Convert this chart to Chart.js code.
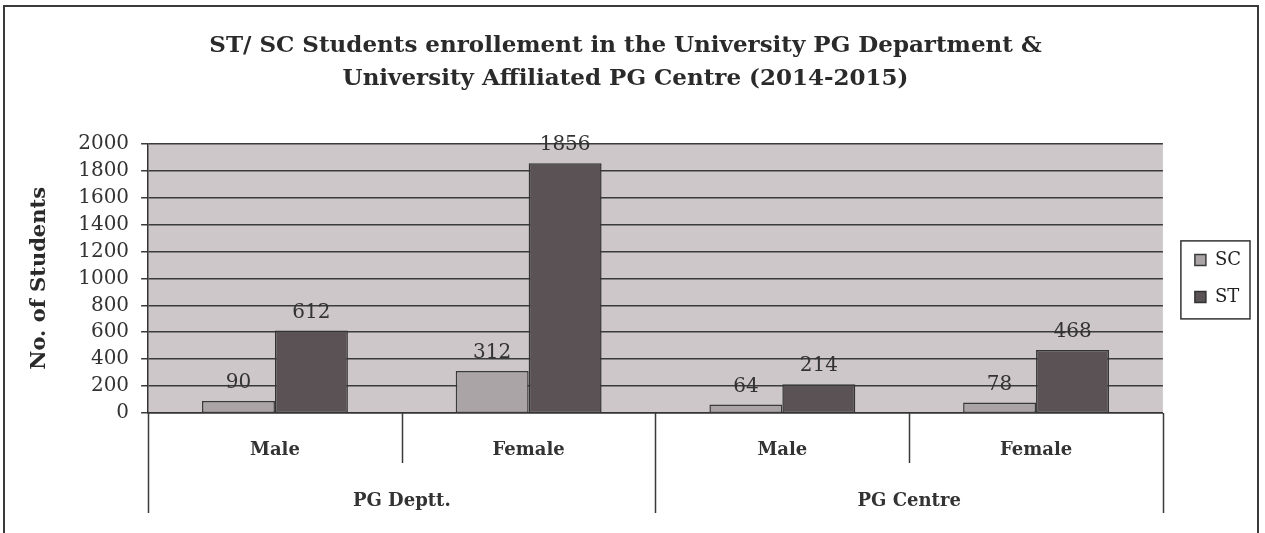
<!DOCTYPE html>
<html lang="en">
<head>
  <meta charset="UTF-8">
  <script src="https://cdn.jsdelivr.net/npm/chart.js"></script>
  <title>ST/ SC Students enrollement</title>
  <style>
    body {
      margin: 0;
      padding: 0;
      background-color: #fff;
      width: 1265px;
      height: 533px;
      overflow: hidden;
      position: relative;
    }

    .frame {
      position: absolute;
      left: 3px;
      top: 5px;
      width: 1252px;
      height: 540px;
      border: 2px solid #3a3a3a;
    }

    .wrap {
      position: absolute;
      left: 0;
      top: 0;
      width: 1265px;
      height: 533px;
    }
  </style>
</head>
<body>
<div class="frame"></div>
<div class="wrap">
  <canvas id="enrolChart" width="1265" height="533"></canvas>
</div>

<script>
  // chart data
  const groups = ['PG Deptt.', 'PG Centre'];
  const genders = ['Male', 'Female', 'Male', 'Female'];
  const scValues = [90, 312, 64, 78];
  const stValues = [612, 1856, 214, 468];
  const yMin = 0;
  const yMax = 2000;
  const yStep = 200;

  const serif = '"DejaVu Serif", "Liberation Serif", serif';
  const lineColor = '#3a3a3a';

  // grey plot background
  const plotBackground = {
    id: 'plotBackground',
    beforeDraw(chart) {
      const { ctx, chartArea } = chart;
      ctx.save();
      ctx.fillStyle = '#cdc7ca';
      ctx.fillRect(chartArea.left, chartArea.top, chartArea.width, chartArea.height);
      ctx.restore();
    }
  };

  // value labels above each bar
  const valueLabels = {
    id: 'valueLabels',
    afterDatasetsDraw(chart) {
      const ctx = chart.ctx;
      ctx.save();
      ctx.font = '20px ' + serif;
      ctx.fillStyle = '#333';
      ctx.textAlign = 'center';
      ctx.textBaseline = 'bottom';
      chart.data.datasets.forEach((ds, i) => {
        chart.getDatasetMeta(i).data.forEach((bar, j) => {
          ctx.fillText(ds.data[j], bar.x, bar.y - 8);
        });
      });
      ctx.restore();
    }
  };

  // separator lines of the two-level category axis
  const categoryDividers = {
    id: 'categoryDividers',
    afterDraw(chart) {
      const ctx = chart.ctx;
      const x = chart.scales.x;
      const x2 = chart.scales.x2;
      ctx.save();
      ctx.strokeStyle = lineColor;
      ctx.lineWidth = 1.5;
      ctx.beginPath();
      for (let i = 0; i <= genders.length; i++) {
        const px = Math.round(x.getPixelForValue(i - 0.5)) + 0.5;
        ctx.moveTo(px, x.top);
        ctx.lineTo(px, x.top + 50);
      }
      for (let i = 0; i <= groups.length; i++) {
        const px = Math.round(x2.getPixelForValue(i - 0.5)) + 0.5;
        ctx.moveTo(px, x.top);
        ctx.lineTo(px, x2.top + 50);
      }
      ctx.stroke();
      ctx.restore();
    }
  };

  // frame round the legend
  const legendFrame = {
    id: 'legendFrame',
    afterDraw(chart) {
      const boxes = chart.legend.legendHitBoxes;
      if (!boxes || !boxes.length) return;
      const ctx = chart.ctx;
      let l = Infinity, t = Infinity, r = -Infinity, b = -Infinity;
      boxes.forEach(h => {
        l = Math.min(l, h.left);
        t = Math.min(t, h.top);
        r = Math.max(r, h.left + h.width);
        b = Math.max(b, h.top + h.height);
      });
      ctx.save();
      ctx.strokeStyle = '#333';
      ctx.lineWidth = 1.5;
      ctx.strokeRect(l - 14, t - 10, r - l + 23, b - t + 23);
      ctx.restore();
    }
  };

  const ctx = document.getElementById('enrolChart').getContext('2d');
  const enrolChart = new Chart(ctx, {
    type: 'bar',
    data: {
      labels: genders,
      datasets: [
        {
          label: 'SC',
          data: scValues,
          backgroundColor: '#aaa4a7',
          borderColor: lineColor,
          borderWidth: 1.5,
          borderSkipped: false,
        },
        {
          label: 'ST',
          data: stValues,
          backgroundColor: '#5a5255',
          borderColor: '#333',
          borderWidth: 1.5,
          borderSkipped: false,
        },
      ],
    },
    options: {
      responsive: false,
      animation: false,
      layout: {
        padding: { left: 0, right: 14, top: 0, bottom: 20 }
      },
      datasets: {
        bar: { categoryPercentage: 0.575, barPercentage: 1 }
      },
      plugins: {
        title: {
          display: true,
          text: [
            'ST/ SC Students enrollement in the University PG Department &',
            'University Affiliated PG Centre (2014-2015)'
          ],
          color: '#2a2a2a',
          font: { family: serif, size: 23, weight: 'bold', lineHeight: 1.43 },
          padding: { top: 30, bottom: 48 },
        },
        legend: {
          position: 'right',
          fullSize: false,
          labels: {
            color: '#222',
            boxWidth: 11,
            boxHeight: 11,
            padding: 19,
            font: { family: serif, size: 18 },
          },
        },
        tooltip: { enabled: false },
      },
      scales: {
        x: {
          type: 'category',
          labels: genders,
          offset: true,
          grid: { display: false },
          border: { display: true, color: '#333', width: 1.5 },
          ticks: {
            color: '#333',
            padding: 19,
            font: { family: serif, size: 18, weight: 'bold' },
          },
          afterFit(scale) { scale.height = 50; },
        },
        x2: {
          type: 'category',
          labels: groups,
          position: 'bottom',
          offset: true,
          grid: { display: false },
          border: { display: false },
          ticks: {
            color: '#333',
            padding: 20,
            font: { family: serif, size: 18, weight: 'bold' },
          },
          afterFit(scale) { scale.height = 50; },
        },
        // empty spacer between plot and legend
        gap: {
          type: 'linear',
          position: 'right',
          grid: { display: false },
          border: { display: false },
          ticks: { display: false },
          afterFit(scale) { scale.width = 13; },
        },
        y: {
          min: yMin,
          max: yMax,
          ticks: {
            stepSize: yStep,
            autoSkip: false,
            color: '#333',
            padding: 12,
            font: { family: serif, size: 20 },
            callback: v => String(v),
          },
          grid: {
            color: lineColor,
            lineWidth: 1.5,
            tickLength: 7,
          },
          border: { display: true, color: '#333', width: 1.5 },
          title: {
            display: true,
            text: 'No. of Students',
            color: '#2a2a2a',
            font: { family: serif, size: 21, weight: 'bold' },
            padding: { top: 27, bottom: 14 },
          },
        },
      },
    },
    plugins: [plotBackground, valueLabels, categoryDividers, legendFrame],
  });
</script>
</body>
</html>
